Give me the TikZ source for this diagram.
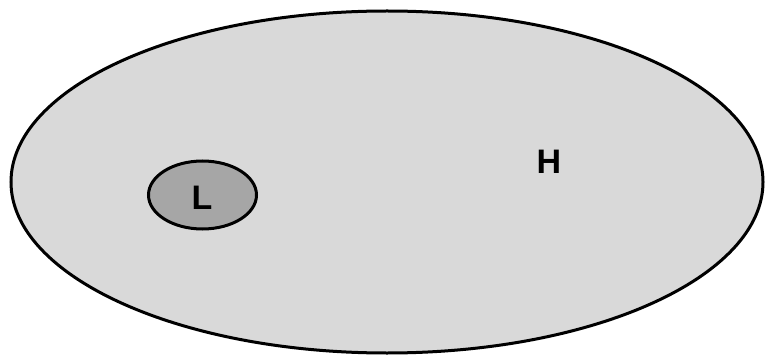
\documentclass[tikz,border=0pt]{standalone}
\usepackage{fontspec}
\setmainfont{Liberation Sans}
\usetikzlibrary{positioning}

\begin{document}
\begin{tikzpicture}[x=1pt, y=-1pt,
        set/.style={draw=black, line width=3pt, fill=#1},
        lbl/.style={font=\fontsize{34}{34}\selectfont\bfseries, inner sep=0pt}
    ]
    \useasboundingbox (0,0) rectangle (765,358);
    % outer set
    \draw [set={black!15}] (387,182) ellipse [x radius=376, y radius=171];
    \node [lbl] (hlabel) at (549,162) {H};
    % inner set
    \draw [set={black!35}] (202.5,195) ellipse [x radius=54, y radius=34];
    \node [lbl] (llabel) at (202,198) {L};
\end{tikzpicture}
\end{document}
